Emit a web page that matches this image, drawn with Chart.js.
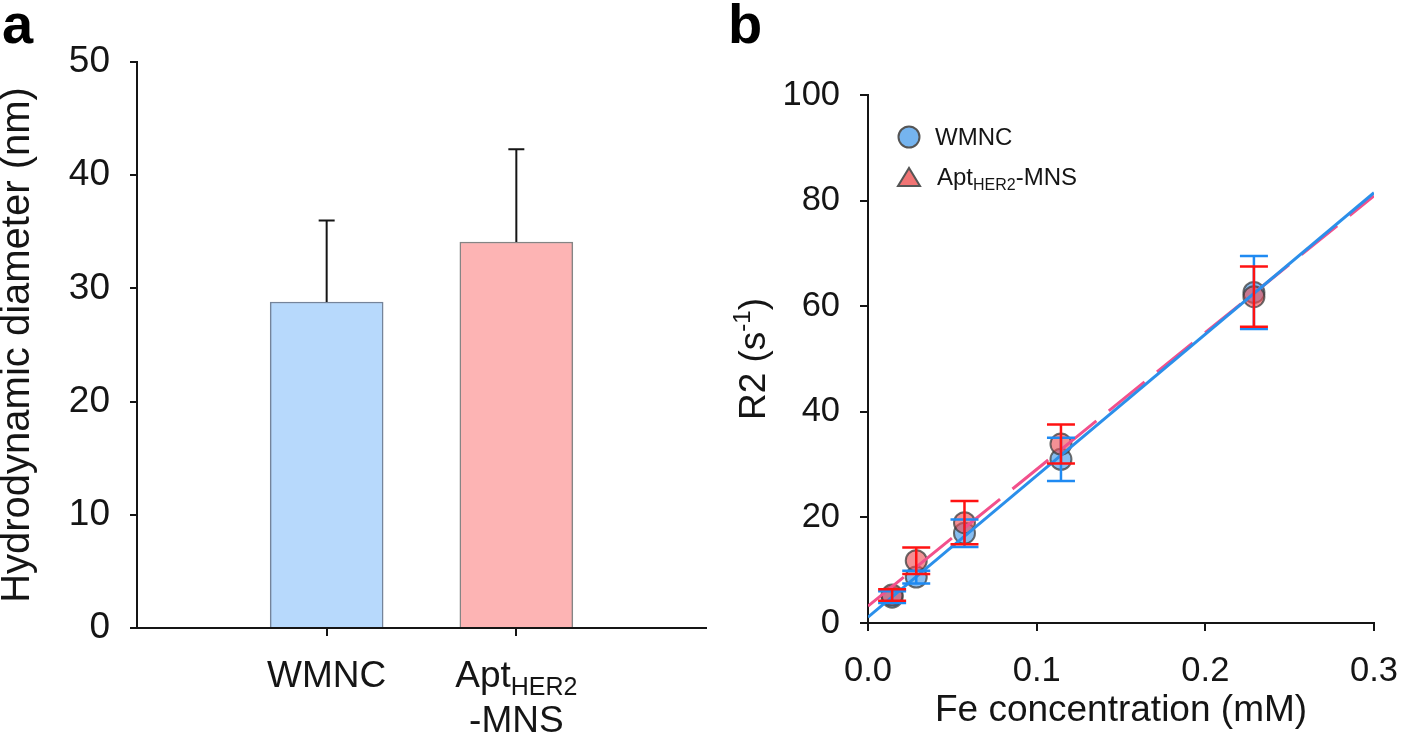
<!DOCTYPE html>
<html>
<head>
<meta charset="utf-8">
<script src="https://cdn.jsdelivr.net/npm/chart.js@4.4.0/dist/chart.umd.min.js"></script>
<style>
    body { margin: 0; background: #fff; }
    #wrap { position: relative; width: 1418px; height: 735px; overflow: hidden; }
    #chartA { position: absolute; left: 0; top: 0; }
    #chartB { position: absolute; left: 720px; top: 0; }
</style>
</head>
<body>
<div id="wrap">
    <canvas id="chartA" width="715" height="735"></canvas>
    <canvas id="chartB" width="698" height="735"></canvas>
</div>
<script>
const FONT = "'Liberation Sans', Arial, sans-serif";
const INK = '#151515';

// Panel a: hydrodynamic diameter
const barNames = ['WMNC', 'Apt'];
const barSubs = ['', 'HER2'];
const barSecondLine = ['', '-MNS'];
const diameters = [28.8, 34.1];
const diameterErr = [7.2, 8.2];
const diameterTicks = [0, 10, 20, 30, 40, 50];

// Panel b: R2 relaxation rate vs Fe concentration
const feConc = [0.0143, 0.0286, 0.0572, 0.1144, 0.2288];
const r2Wmnc = [4.9, 8.7, 17.0, 31.0, 62.6];
const r2WmncErr = [1.1, 1.2, 2.6, 4.1, 6.9];
const r2Apt = [5.3, 11.8, 19.0, 33.9, 61.8];
const r2AptErr = [1.1, 2.5, 4.1, 3.7, 5.7];
const fitConc = [0, 0.3];
const fitWmnc = [1.1, 81.5];
const fitApt = [3.2, 80.9];
const concTicks = [0, 0.1, 0.2, 0.3];
const r2Ticks = [0, 20, 40, 60, 80, 100];

const pts = (xs, ys) => xs.map((v, i) => ({ x: v, y: ys[i] }));

// Bold panel letter in the top-left corner
function panelLetter(letter, x) {
    return {
        id: 'letter' + letter,
        afterDraw(chart) {
            const ctx = chart.ctx;
            ctx.save();
            ctx.font = `bold 56px ${FONT}`;
            ctx.fillStyle = '#000';
            ctx.textBaseline = 'alphabetic';
            ctx.fillText(letter, x, 43);
            ctx.restore();
        }
    };
}

// Upward-only error bars on the bars
const barErrorPlugin = {
    id: 'barErrors',
    afterDatasetsDraw(chart) {
        const { ctx, scales: { x, y } } = chart;
        ctx.save();
        ctx.strokeStyle = INK;
        ctx.lineWidth = 2;
        diameters.forEach((v, i) => {
            const px = x.getPixelForValue(i + 1);
            const base = y.getPixelForValue(v);
            const top = y.getPixelForValue(v + diameterErr[i]);
            ctx.beginPath();
            ctx.moveTo(px, base);
            ctx.lineTo(px, top);
            ctx.moveTo(px - 8, top);
            ctx.lineTo(px + 8, top);
            ctx.stroke();
        });
        ctx.restore();
    }
};

// Category labels with subscripts
const barLabelPlugin = {
    id: 'barLabels',
    afterDraw(chart) {
        const { ctx, scales: { x } } = chart;
        const base = chart.chartArea.bottom + 59;
        ctx.save();
        ctx.fillStyle = INK;
        ctx.textBaseline = 'alphabetic';
        barNames.forEach((name, i) => {
            const cx = x.getPixelForValue(i + 1);
            ctx.font = `37px ${FONT}`;
            const w1 = ctx.measureText(name).width;
            ctx.font = `25px ${FONT}`;
            const w2 = barSubs[i] ? ctx.measureText(barSubs[i]).width : 0;
            const left = cx - (w1 + w2) / 2;
            ctx.textAlign = 'left';
            ctx.font = `37px ${FONT}`;
            ctx.fillText(name, left, base);
            if (barSubs[i]) {
                ctx.font = `25px ${FONT}`;
                ctx.fillText(barSubs[i], left + w1, base + 8);
            }
            if (barSecondLine[i]) {
                ctx.font = `37px ${FONT}`;
                ctx.textAlign = 'center';
                ctx.fillText(barSecondLine[i], cx, base + 45);
            }
        });
        ctx.restore();
    }
};

// Symmetric error bars for the scatter points
const pointErrorPlugin = {
    id: 'pointErrors',
    afterDatasetsDraw(chart) {
        const { ctx, scales: { x, y } } = chart;
        const series = [
            { vals: r2Wmnc, errs: r2WmncErr, color: '#1f8af2' },
            { vals: r2Apt, errs: r2AptErr, color: '#ff1212' }
        ];
        ctx.save();
        ctx.lineWidth = 2.5;
        series.forEach(s => {
            ctx.strokeStyle = s.color;
            feConc.forEach((c, i) => {
                const px = x.getPixelForValue(c);
                const hi = y.getPixelForValue(s.vals[i] + s.errs[i]);
                const lo = y.getPixelForValue(s.vals[i] - s.errs[i]);
                ctx.beginPath();
                ctx.moveTo(px, hi);
                ctx.lineTo(px, lo);
                ctx.moveTo(px - 14, hi);
                ctx.lineTo(px + 14, hi);
                ctx.moveTo(px - 14, lo);
                ctx.lineTo(px + 14, lo);
                ctx.stroke();
            });
        });
        ctx.restore();
    }
};

// Legend and y title of panel b (both need sub/superscripts)
const panelBTextPlugin = {
    id: 'panelBText',
    afterDraw(chart) {
        const ctx = chart.ctx;
        ctx.save();
        ctx.fillStyle = INK;
        ctx.lineWidth = 2;
        ctx.strokeStyle = '#555';

        ctx.beginPath();
        ctx.arc(189, 137, 10.5, 0, Math.PI * 2);
        ctx.fillStyle = 'rgba(110,176,238,0.95)';
        ctx.fill();
        ctx.stroke();

        ctx.beginPath();
        ctx.moveTo(178, 186);
        ctx.lineTo(200, 186);
        ctx.lineTo(189, 168);
        ctx.closePath();
        ctx.fillStyle = '#f07474';
        ctx.fill();
        ctx.stroke();

        ctx.fillStyle = INK;
        ctx.textBaseline = 'alphabetic';
        ctx.font = `24px ${FONT}`;
        ctx.fillText('WMNC', 215, 145);
        let tx = 217;
        ctx.fillText('Apt', tx, 185);
        tx += ctx.measureText('Apt').width;
        ctx.font = `16px ${FONT}`;
        ctx.fillText('HER2', tx, 190);
        tx += ctx.measureText('HER2').width;
        ctx.font = `24px ${FONT}`;
        ctx.fillText('-MNS', tx, 185);

        // y axis title: R2 (s^-1)
        const area = chart.chartArea;
        const cy = (area.top + area.bottom) / 2;
        ctx.font = `37px ${FONT}`;
        const wa = ctx.measureText('R2 (s').width;
        const wc = ctx.measureText(')').width;
        ctx.font = `24px ${FONT}`;
        const wb = ctx.measureText('-1').width;
        ctx.translate(45, cy);
        ctx.rotate(-Math.PI / 2);
        let p = -(wa + wb + wc) / 2;
        ctx.font = `37px ${FONT}`;
        ctx.fillText('R2 (s', p, 0);
        p += wa;
        ctx.font = `24px ${FONT}`;
        ctx.fillText('-1', p, -15);
        p += wb;
        ctx.font = `37px ${FONT}`;
        ctx.fillText(')', p, 0);
        ctx.restore();
    }
};

const labelsA = ['', ...barNames.map((n, i) => n + barSubs[i] + barSecondLine[i]), ''];

new Chart(document.getElementById('chartA'), {
    type: 'bar',
    data: {
        labels: labelsA,
        datasets: [{
            data: [null, ...diameters, null],
            backgroundColor: ['#fff', '#b7d9fc', '#fdb4b4', '#fff'],
            borderColor: ['#fff', '#75849a', '#858585', '#fff'],
            borderWidth: 1.5,
            barThickness: 113
        }]
    },
    options: {
        responsive: false,
        animation: false,
        layout: { padding: { top: 62, right: 9, left: 0, bottom: 0 } },
        plugins: { legend: { display: false }, tooltip: { enabled: false } },
        scales: {
            x: {
                offset: false,
                grid: {
                    offset: false,
                    drawOnChartArea: false,
                    tickLength: 8,
                    lineWidth: 2,
                    color: ctx => (ctx.index > 0 && ctx.index < labelsA.length - 1) ? INK : 'rgba(0,0,0,0)'
                },
                border: { color: INK, width: 2 },
                ticks: { callback: () => '', autoSkip: false, maxRotation: 0 },
                afterFit: s => { s.height = 107; }
            },
            y: {
                min: 0,
                max: 50,
                afterBuildTicks: s => { s.ticks = diameterTicks.map(v => ({ value: v })); },
                grid: { drawOnChartArea: false, tickLength: 7, lineWidth: 2, color: INK },
                border: { color: INK, width: 2 },
                ticks: { font: { family: FONT, size: 37 }, color: INK, padding: 20 },
                title: {
                    display: true,
                    text: 'Hydrodynamic diameter (nm)',
                    font: { family: FONT, size: 40, lineHeight: 0.9 },
                    color: INK,
                    padding: 0
                },
                afterFit: s => { s.width = 137; }
            }
        }
    },
    plugins: [barErrorPlugin, barLabelPlugin, panelLetter('a', 2)]
});

new Chart(document.getElementById('chartB'), {
    type: 'scatter',
    data: {
        datasets: [{
            label: 'WMNC fit',
            data: pts(fitConc, fitWmnc),
            showLine: true,
            pointRadius: 0,
            borderColor: '#2b8fea',
            borderWidth: 3,
            order: 1
        }, {
            label: 'AptHER2-MNS fit',
            data: pts(fitConc, fitApt),
            showLine: true,
            pointRadius: 0,
            borderColor: '#f2508c',
            borderWidth: 3,
            borderDash: [46, 16],
            order: 2
        }, {
            label: 'WMNC',
            data: pts(feConc, r2Wmnc),
            pointRadius: 10.5,
            backgroundColor: 'rgba(105,172,236,0.8)',
            borderColor: 'rgba(60,60,60,0.75)',
            borderWidth: 2,
            order: 4
        }, {
            label: 'AptHER2-MNS',
            data: pts(feConc, r2Apt),
            pointRadius: 10.5,
            backgroundColor: 'rgba(238,78,84,0.62)',
            borderColor: 'rgba(60,60,60,0.75)',
            borderWidth: 2,
            order: 3
        }]
    },
    options: {
        responsive: false,
        animation: false,
        layout: { padding: { top: 95, right: 26, left: 0, bottom: 0 } },
        plugins: { legend: { display: false }, tooltip: { enabled: false } },
        scales: {
            x: {
                type: 'linear',
                min: 0,
                max: 0.3,
                afterBuildTicks: s => { s.ticks = concTicks.map(v => ({ value: v })); },
                grid: { drawOnChartArea: false, tickLength: 8, lineWidth: 2, color: INK },
                border: { color: INK, width: 2 },
                ticks: {
                    font: { family: FONT, size: 34.5 },
                    color: INK,
                    padding: 20,
                    maxRotation: 0,
                    callback: v => v.toFixed(1)
                },
                title: {
                    display: true,
                    text: 'Fe concentration (mM)',
                    font: { family: FONT, size: 37, lineHeight: 1 },
                    color: INK,
                    padding: { top: 0, bottom: 6 }
                },
                afterFit: s => { s.height = 112; }
            },
            y: {
                min: 0,
                max: 100,
                afterBuildTicks: s => { s.ticks = r2Ticks.map(v => ({ value: v })); },
                grid: { drawOnChartArea: false, tickLength: 8, lineWidth: 2, color: INK },
                border: { color: INK, width: 2 },
                ticks: { font: { family: FONT, size: 34.5 }, color: INK, padding: 20 },
                afterFit: s => { s.width = 148; }
            }
        }
    },
    plugins: [pointErrorPlugin, panelBTextPlugin, panelLetter('b', 8)]
});
</script>
</body>
</html>
